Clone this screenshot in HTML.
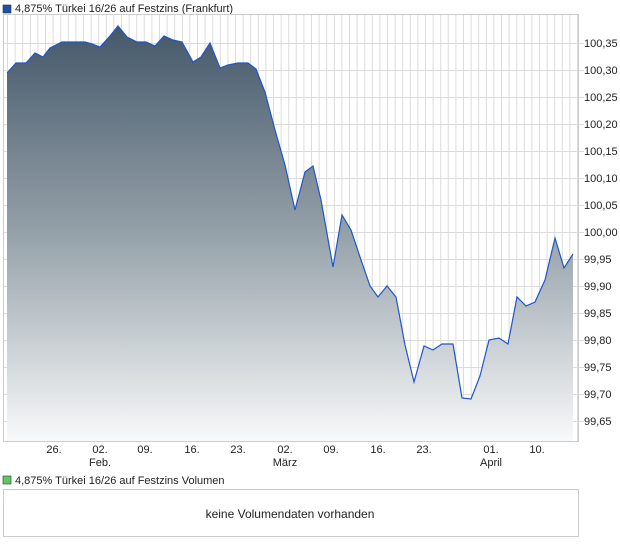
<!DOCTYPE html>
<html><head><meta charset="utf-8"><style>
body{margin:0;background:#fff;width:620px;height:546px;overflow:hidden;font-family:"Liberation Sans",sans-serif}
</style></head><body>
<svg width="620" height="546" xmlns="http://www.w3.org/2000/svg" font-family="Liberation Sans, sans-serif">
<defs><linearGradient id="g" gradientUnits="userSpaceOnUse" x1="0" y1="26" x2="0" y2="441">
<stop offset="0" stop-color="#44586a"/><stop offset="0.5" stop-color="#95a1a9"/><stop offset="1" stop-color="#f8f9fa"/></linearGradient></defs>
<rect x="3" y="5" width="8" height="8" fill="#1f4fa8" stroke="#333" stroke-width="0.6"/>
<text x="15" y="12" font-size="11" fill="#222">4,875% Türkei 16/26 auf Festzins (Frankfurt)</text>
<g stroke="#dcdcdc" stroke-width="1" id="grid"></g>
<polygon fill="url(#g)" points="7,441 7,73 16,63 26,63 35,53 43,57 50,48 62,42 85,42 92,44 100,47 110,36 118,26 127,37 137,42 146,42 155,46 164,36 173,40 182,42 193,62 201,57 210,43 220,68 228,65 238,63 248,63 256,69 265,92 275,130 285,165 295,210 305,172 313,166 321,200 333,267 342,215 351,230 360,257 370,286 378,297 387,286 396,297 405,345 414,382 424,346 433,350 442,344 453,344 462,398 471,399 480,376 489,340 499,338 508,344 517,297 526,306 535,302 545,280 555,238 564,268 573,254 573,441"/>
<polyline fill="none" stroke="#1f56c8" stroke-width="1.2" points="7,73 16,63 26,63 35,53 43,57 50,48 62,42 85,42 92,44 100,47 110,36 118,26 127,37 137,42 146,42 155,46 164,36 173,40 182,42 193,62 201,57 210,43 220,68 228,65 238,63 248,63 256,69 265,92 275,130 285,165 295,210 305,172 313,166 321,200 333,267 342,215 351,230 360,257 370,286 378,297 387,286 396,297 405,345 414,382 424,346 433,350 442,344 453,344 462,398 471,399 480,376 489,340 499,338 508,344 517,297 526,306 535,302 545,280 555,238 564,268 573,254"/>
<rect x="3.5" y="14.5" width="575" height="427" fill="none" stroke="#ccc"/>
<g font-size="11" fill="#222" id="yl"></g>
<g font-size="11" fill="#222" text-anchor="middle">
<text x="54" y="453">26.</text><text x="100" y="453">02.</text><text x="100" y="466">Feb.</text>
<text x="145" y="453">09.</text><text x="192" y="453">16.</text><text x="238" y="453">23.</text>
<text x="285" y="453">02.</text><text x="285" y="466">März</text>
<text x="331" y="453">09.</text><text x="378" y="453">16.</text><text x="424" y="453">23.</text>
<text x="491" y="453">01.</text><text x="491" y="466">April</text><text x="537" y="453">10.</text>
</g>
<rect x="3" y="476" width="8" height="8" fill="#5fc85f" stroke="#333" stroke-width="0.6"/>
<text x="15" y="484" font-size="11" fill="#222">4,875% Türkei 16/26 auf Festzins Volumen</text>
<rect x="3.5" y="489.5" width="575" height="47" fill="none" stroke="#ccc"/>
<text x="290" y="518" font-size="12" fill="#222" text-anchor="middle">keine Volumendaten vorhanden</text>
</svg>
<script>
var g=document.getElementById('grid'),s='';
for(var x=7.5;x<578;x+=7.6)s+='<line x1="'+x+'" y1="15" x2="'+x+'" y2="441"/>';
var yl='';
for(var i=0;i<15;i++){var y=43+27*i;s+='<line x1="3" y1="'+(y+.5)+'" x2="584" y2="'+(y+.5)+'"/>';
var v=(100.35-0.05*i).toFixed(2).replace('.',',');yl+='<text x="584" y="'+(y+4)+'">'+v+'</text>';}
g.innerHTML=s;document.getElementById('yl').innerHTML=yl;
</script>
</body></html>
